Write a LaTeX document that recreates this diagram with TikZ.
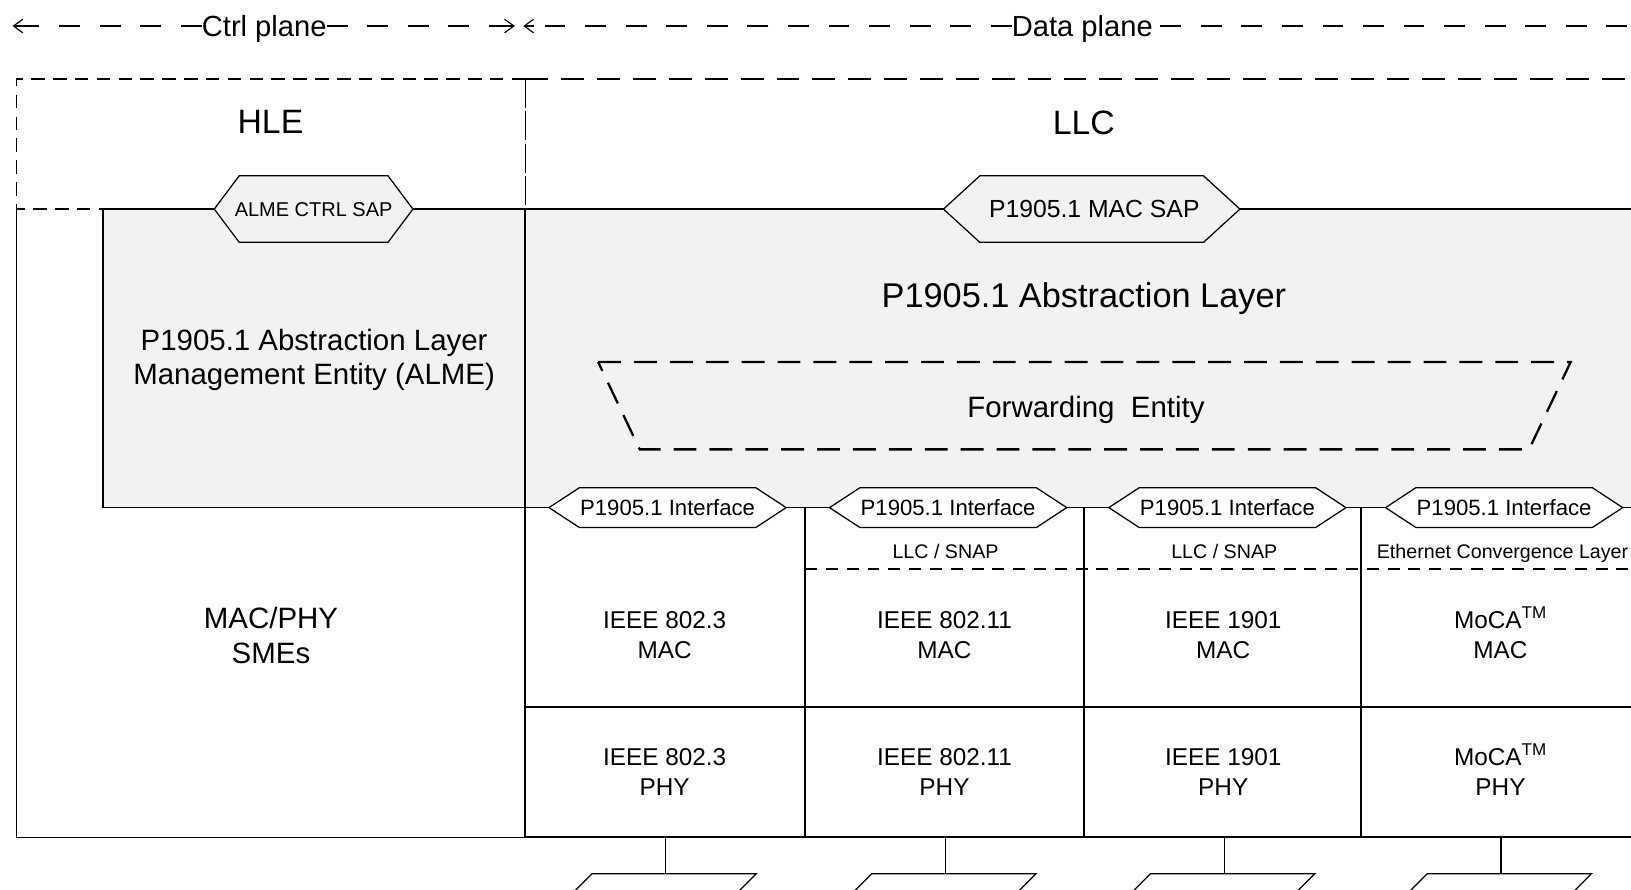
\documentclass[tikz,border=0pt]{standalone}
\usepackage{fontspec}
\setmainfont{Liberation Sans}
\usetikzlibrary{arrows.meta}
\definecolor{layergray}{RGB}{242,242,242}

% hexagonal access-point frame: centre x, centre y, half width, half height, slant, fill
\newcommand\hexframe[6]{%
  \filldraw[fill=#6, line width=1.2pt]
    (#1-#3,#2) -- (#1-#3+#5,#2-#4) -- (#1+#3-#5,#2-#4) -- (#1+#3,#2)
    -- (#1+#3-#5,#2+#4) -- (#1-#3+#5,#2+#4) -- cycle;}
\newcommand\mocatm{MoCA\smash{\textsuperscript{TM}}}

\tikzset{
  thinline/.style={line width=1.2pt},
  gridline/.style={line width=1.8pt},
  planedash/.style={line width=1.1pt, dash pattern=on 20pt off 19pt},
  planetip/.style={line width=1.1pt, -{Straight Barb[length=9pt,width=13pt]}},
  hledash/.style={line width=1.2pt, dash pattern=on 13pt off 8pt},
  llcdash/.style={line width=2.2pt, dash pattern=on 22pt off 12.5pt},
  celldash/.style={line width=1.2pt, dash pattern=on 11.5pt off 8.5pt},
  txt/.style={inner sep=0pt, anchor=base},
  planelbl/.style={txt, inner xsep=0pt, font=\fontsize{28}{33}\selectfont},
  regionlbl/.style={txt, font=\fontsize{32.5}{38}\selectfont},
  bigabs/.style={txt, font=\fontsize{33}{39}\selectfont},
  midlbl/.style={txt, font=\fontsize{28.3}{33}\selectfont},
  ctrlsaplbl/.style={txt, font=\fontsize{19.2}{23}\selectfont},
  macsaplbl/.style={txt, font=\fontsize{23.8}{28}\selectfont},
  ifacelbl/.style={txt, font=\fontsize{21.3}{25}\selectfont},
  convlbl/.style={txt, font=\fontsize{18.9}{22}\selectfont},
  celltxt/.style={inner sep=0pt, align=center, font=\fontsize{23.4}{29}\selectfont},
  blocktxt/.style={inner sep=0pt, align=center, font=\fontsize{28.3}{33}\selectfont},
}

\begin{document}
\begin{tikzpicture}[x=1pt, y=-1pt]
\useasboundingbox (0,0) rectangle (1568,854.66);
\clip (0,0) rectangle (1568,854.66);

% plane extents
\node[planelbl] (ctrlplane) at (254,35) {Ctrl plane};
\node[planelbl] (dataplane) at (1040.5,35) {Data plane};
\coordinate (ctrlL) at (12,25);
\coordinate (ctrlLs) at (22,25);
\coordinate (ctrlR) at (495,25);
\coordinate (ctrlRs) at (485,25);
\coordinate (dataL) at (503,25);
\coordinate (dataLs) at (513,25);
\coordinate (dataR) at (1640,25);
\draw[planedash] (ctrlplane.west |- ctrlL) -- (ctrlLs);
\draw[planedash] (ctrlplane.east |- ctrlL) -- (ctrlRs);
\draw[planetip] (ctrlLs) -- (ctrlL);
\draw[planetip] (ctrlRs) -- (ctrlR);
\draw[planedash] (dataplane.west |- dataL) -- (dataLs);
\draw[planedash, dash phase=-7pt] (dataplane.east |- dataL) -- (dataR);
\draw[planetip] (dataLs) -- (dataL);

% shaded layers
\fill[layergray] (99,201) rectangle (1640,488);

% HLE / LLC regions
\draw[hledash] (505,76) -- (16,76) -- (16,201) -- (99,201);
\draw[line width=1.2pt, dash pattern=on 28pt off 3pt] (505,76) -- (505,201);
\draw[llcdash] (505,76) -- (1640,76);
\node[regionlbl] (hle) at (260,128.6) {HLE};
\node[regionlbl] (llc) at (1042,129.6) {LLC};

% layer boundaries
\draw[thinline] (99,201) -- (1640,201);
\draw[thinline] (99,201) -- (99,488) -- (1640,488);
\draw[thinline] (16,201) -- (16,805) -- (505,805);
\draw[gridline] (505,805) -- (1640,805);
\draw[gridline] (505,201) -- (505,805);
\foreach \x in {774,1042,1308}
  \draw[gridline] (\x,488) -- (\x,805);
\draw[gridline] (505,680) -- (1640,680);
\draw[celldash] (774,547) -- (1640,547);

% forwarding entity
\draw[llcdash] (575,348) -- (1510,348) -- (1470,432) -- (615,432) -- cycle;
\node[midlbl] (fwd) at (1044,401.1) {Forwarding\ \ Entity};
\node[bigabs] (abslayer) at (1042,295.8) {P1905.1 Abstraction Layer};
\node[blocktxt] (alme) at (302,346) {P1905.1 Abstraction Layer\\Management Entity (ALME)};

% service access points
\hexframe{301.5}{201}{95.5}{32}{24}{layergray}
\node[ctrlsaplbl] (ctrlsap) at (301.5,207.8) {ALME CTRL SAP};
\hexframe{1049.5}{201}{142.5}{32}{35}{layergray}
\node[macsaplbl] (macsap) at (1052,209) {P1905.1 MAC SAP};

% interfaces
\foreach \c/\n in {641.8/a,911.5/b,1180/c,1446/d}{
  \hexframe{\c}{488}{114}{19}{29}{white}
  \node[ifacelbl] (iface\n) at (\c,495.1) {P1905.1 Interface};
}
\node[convlbl] (convb) at (909,537.3) {LLC / SNAP};
\node[convlbl] (convc) at (1177,537.3) {LLC / SNAP};
\node[convlbl] (convd) at (1444.5,537.3) {Ethernet Convergence Layer};

% MAC / PHY cells
\node[blocktxt] (sme) at (260.5,611) {MAC/PHY\\SMEs};
\node[celltxt] (maca) at (639,610.5) {IEEE 802.3\\MAC};
\node[celltxt] (macb) at (908,610.5) {IEEE 802.11\\MAC};
\node[celltxt] (macc) at (1176,610.5) {IEEE 1901\\MAC};
\node[celltxt] (macd) at (1442.5,610.5) {\mocatm\\MAC};
\node[celltxt] (phya) at (639,742) {IEEE 802.3\\PHY};
\node[celltxt] (phyb) at (908,742) {IEEE 802.11\\PHY};
\node[celltxt] (phyc) at (1176,742) {IEEE 1901\\PHY};
\node[celltxt] (phyd) at (1442.5,742) {\mocatm\\PHY};

% media attachments
\foreach \c/\n in {640/a,909/b,1177/c,1443/d}{
  \coordinate (bus\n) at (\c,805);
  \coordinate (med\n) at (\c,840);
  \draw[thinline] (bus\n) -- (med\n);
  \draw[thinline] (med\n) ++(-91,20) -- ++(20,-20) -- ++(158,0) -- ++(-20,20);
}
\end{tikzpicture}
\end{document}
